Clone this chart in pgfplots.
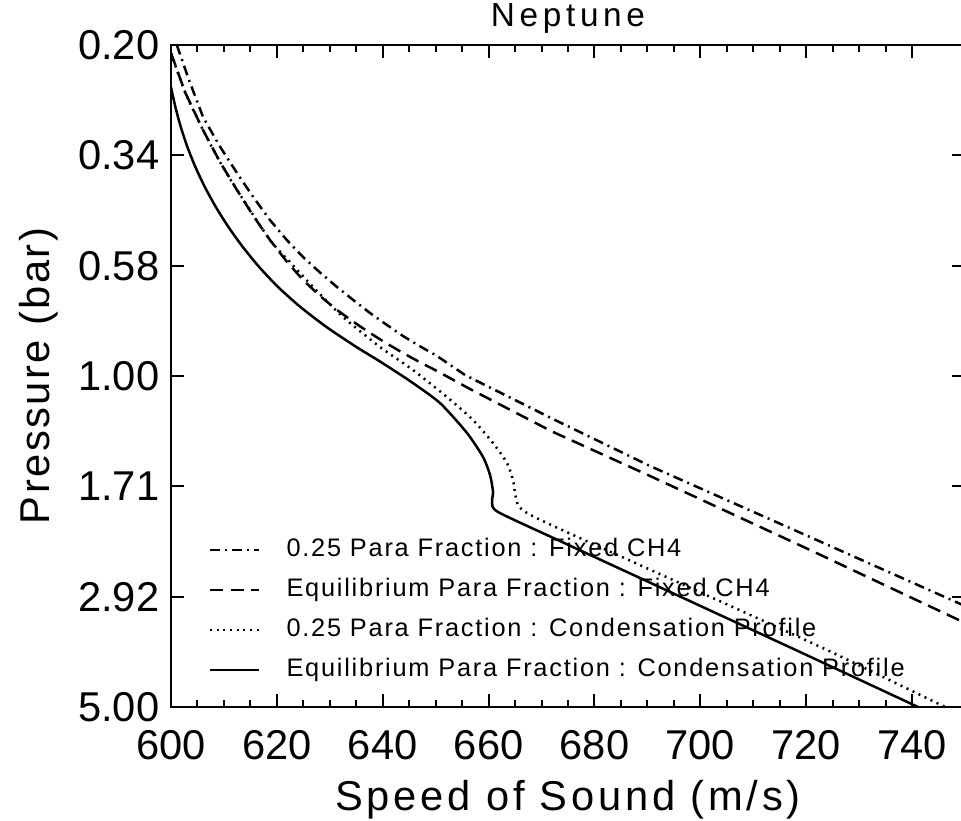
\documentclass[border=0pt]{standalone}
\usepackage{fontspec}
\setmainfont{Liberation Sans}
\newfontfamily\lblfont[LetterSpace=6]{Liberation Sans}
\newfontfamily\xlblfont[LetterSpace=9]{Liberation Sans}
\newfontfamily\smfont[LetterSpace=7]{Liberation Sans}
\newfontfamily\ttlfont[LetterSpace=14]{Liberation Sans}
\usepackage{pgfplots}
\pgfplotsset{compat=1.18}
\begin{document}
\begin{tikzpicture}
\useasboundingbox (-51.3pt,-33.9pt) rectangle (237pt,212.1pt);
\begin{axis}[
  at={(0pt,0pt)}, anchor=south west,
  scale only axis, width=238.2pt, height=198.6pt,
  xmin=600, xmax=750, ymin=0.2, ymax=5,
  ymode=log, y dir=reverse,
  xtick={600,620,...,740}, minor x tick num=3,
  ytick={0.2,0.342,0.585,1,1.71,2.924,5},
  yticklabels={0.20,0.34,0.58,1.00,1.71,2.92,5.00},
  yminorticks=false,
  major tick length=4pt, minor tick length=2pt,
  tick style={black, line width=0.6pt},
  axis line style={line width=0.6pt},
  /pgf/number format/assume math mode=true,
  xticklabel style={font=\fontsize{12.5}{14}\selectfont, yshift=-3.5pt},
  yticklabel style={font=\fontsize{12.5}{14}\selectfont},
  xlabel={Speed of Sound (m/s)},
  ylabel={Pressure (bar)},
  title={Neptune},
  xlabel style={font=\xlblfont\fontsize{12.5}{14}\selectfont, at={(axis description cs:0.5,-0.1556)}, anchor=base},
  ylabel style={font=\lblfont\fontsize{12.5}{14}\selectfont, at={(axis description cs:-0.1524,0.5)}, anchor=base},
  title style={font=\ttlfont\fontsize{10}{12}\selectfont, at={(axis description cs:0.5,0.997)}, anchor=base},
  legend cell align=left,
  legend style={draw=none, fill=none, at={(axis description cs:0.0466,0.0272)}, anchor=south west,
    font=\smfont\fontsize{7.6}{8.5}\selectfont, row sep=1.0pt, inner sep=0pt},
  legend image code/.code={\draw[#1] (0pt,0pt) -- (14.7pt,0pt); \path[draw=none] (0pt,0pt) -- (21pt,0pt);},
  every axis plot/.append style={line width=0.75pt, black},
]
\addplot[dash pattern=on 3pt off 1.5pt on 0.6pt off 1.5pt] coordinates {
(601.1,0.2) (603.40,0.2371) (606.05,0.2838) (609.2,0.3270) (612.47,0.3727) (615.6,0.4200) (618.70,0.4684) (621.8,0.5150) (624.94,0.5607)
(628.1,0.6040) (631.36,0.6487) (634.5,0.6920) (637.60,0.7362) (640.7,0.7790) (643.83,0.8233) (647.0,0.8650) (650.26,0.9074) (655.55,0.9952)
(672.0,1.2300) (690.50,1.5491) (720.0,2.1700) (750.0,3.0598)};
\addlegendentry{0.25 Para Fraction : Fixed CH4}
\addplot[dash pattern=on 4pt off 2.2pt] coordinates {
(600,0.2079) (602.64,0.2513) (606.05,0.3024) (609.26,0.3533) (612.47,0.4048) (615.6,0.4600) (618.70,0.5162)
(621.8,0.5720) (624.94,0.6270) (628.1,0.6770) (631.36,0.7254) (634.5,0.7690) (637.60,0.8113) (640.7,0.8530) (643.83,0.8942) (647.0,0.9350) (650.26,0.9761)
(656.49,1.0653) (672.0,1.3100) (690.50,1.6263) (720.0,2.3100) (750,3.322)};
\addlegendentry{Equilibrium Para Fraction : Fixed CH4}
\addplot[smooth, tension=0.4, dash pattern=on 0.6pt off 1.4pt] coordinates {
(600,0.2079) (602.64,0.2513) (606.05,0.3024) (609.26,0.3533) (612.47,0.4048) (618.70,0.5162)
(622.48,0.5745) (626.83,0.6487) (632.50,0.7507) (639.49,0.8685) (645.72,0.9713)
(652.14,1.1076) (657.06,1.2386) (660.83,1.3852) (663.48,1.5266) (664.61,1.6582)
(664.99,1.7664) (665.56,1.8725) (667.26,1.9468) (673.49,2.1044) (698.62,2.8174)
(723.94,3.7900) (746.23,5.0)};
\addlegendentry{0.25 Para Fraction : Condensation Profile}
\addplot[smooth, tension=0.4] coordinates {
(600,0.2453) (600.83,0.2704) (601.85,0.2980) (603.10,0.3284) (604.61,0.3620) (606.39,0.3989)
(608.47,0.4397) (610.85,0.4846) (613.57,0.5341) (616.66,0.5886) (620.22,0.6487)
(624.45,0.7150) (629.36,0.7880) (635.03,0.8685) (639.49,0.9320)
(645.15,1.0247) (650.82,1.1404) (655.92,1.3193) (658.95,1.4827) (660.27,1.6184)
(660.84,1.7579) (660.65,1.8454) (661.78,1.9374) (673.49,2.2308) (688.61,2.6706)
(703.72,3.1968) (718.84,3.8270) (741.13,5.0)};
\addlegendentry{Equilibrium Para Fraction : Condensation Profile}
\end{axis}
\end{tikzpicture}
\end{document}
